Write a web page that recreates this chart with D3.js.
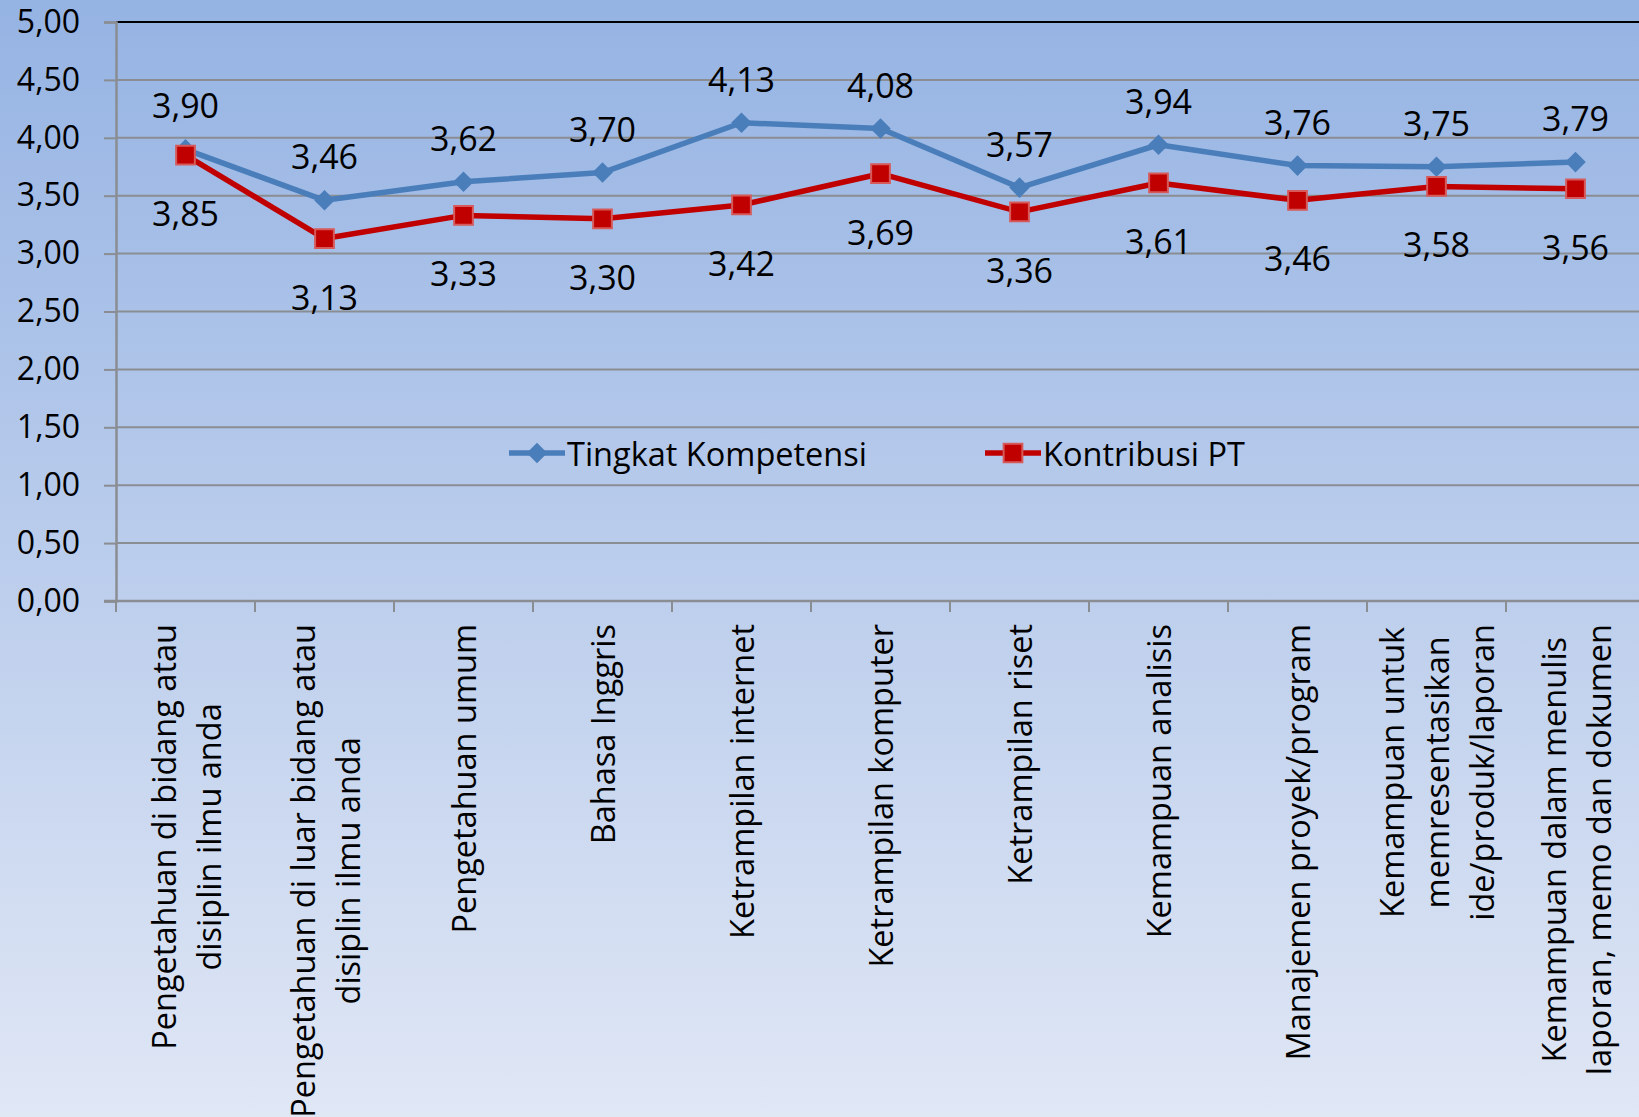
<!DOCTYPE html>
<html>
<head>
<meta charset="utf-8">
<script src="https://cdn.jsdelivr.net/npm/d3@7"></script>
<style>
  html, body { margin: 0; padding: 0; overflow: hidden; }
  body { font-family: "Open Sans", sans-serif; }
</style>
</head>
<body>
<div id="chart"></div>
<script>
// chart data
const categories = [
    ["Pengetahuan di bidang atau", "disiplin ilmu anda"],
    ["Pengetahuan di luar bidang atau", "disiplin ilmu anda"],
    ["Pengetahuan umum"],
    ["Bahasa Inggris"],
    ["Ketrampilan internet"],
    ["Ketrampilan komputer"],
    ["Ketrampilan riset"],
    ["Kemampuan analisis"],
    ["Manajemen proyek/program"],
    ["Kemampuan untuk", "memresentasikan", "ide/produk/laporan"],
    ["Kemampuan dalam menulis", "laporan, memo dan dokumen"]
];
const tingkatKompetensi = [3.90, 3.46, 3.62, 3.70, 4.13, 4.08, 3.57, 3.94, 3.76, 3.75, 3.79];
const kontribusiPT = [3.85, 3.13, 3.33, 3.30, 3.42, 3.69, 3.36, 3.61, 3.46, 3.58, 3.56];
const yTicks = [0, 0.5, 1, 1.5, 2, 2.5, 3, 3.5, 4, 4.5, 5];
const seriesNames = ["Tingkat Kompetensi", "Kontribusi PT"];

const W = 1639, H = 1117;
const LEFT = 116, RIGHT = 1645, TOP = 22, BOTTOM = 601;
const BLUE = '#4a7ebb', RED = '#c00000';
const FONT = '"Open Sans", sans-serif';
const fmt = v => v.toFixed(2).replace('.', ',');

const svg = d3.select('#chart')
    .append('svg')
    .attr('width', W)
    .attr('height', H);

// background gradient
const grad = svg.append('defs').append('linearGradient')
    .attr('id', 'bg')
    .attr('x1', 0).attr('y1', 0).attr('x2', 0).attr('y2', 1);
grad.append('stop').attr('offset', '0%').attr('stop-color', '#95b3e3');
grad.append('stop').attr('offset', '100%').attr('stop-color', '#e0e7f5');
svg.append('rect').attr('width', W).attr('height', H).attr('fill', 'url(#bg)');

const x = d3.scaleBand()
    .domain(d3.range(categories.length))
    .range([LEFT, RIGHT]);

const y = d3.scaleLinear()
    .domain([0, 5])
    .range([BOTTOM, TOP]);

const cx = i => x(i) + x.bandwidth() / 2;

// gridlines
svg.append('g')
    .selectAll('line')
    .data(yTicks.filter(d => d > 0))
    .enter()
    .append('line')
    .attr('x1', LEFT).attr('x2', W)
    .attr('y1', d => y(d)).attr('y2', d => y(d))
    .attr('stroke', d => d === 5 ? '#000' : '#8a8d92')
    .attr('stroke-width', 2);

// y axis
const yAxisGroup = svg.append('g')
    .attr('transform', `translate(${LEFT}, 0)`)
    .call(d3.axisLeft(y).tickValues(yTicks).tickFormat(fmt).tickSize(12).tickPadding(24));
yAxisGroup.select('.domain').attr('stroke', '#8a8d92').attr('stroke-width', 2.5);
yAxisGroup.selectAll('.tick line').attr('stroke', '#8a8d92').attr('stroke-width', 2);
yAxisGroup.selectAll('.tick text')
    .attr('font-family', FONT)
    .attr('font-size', 32)
    .attr('fill', '#000');

// x axis
const xAxisGroup = svg.append('g')
    .attr('transform', `translate(0, ${BOTTOM})`);
xAxisGroup.append('line')
    .attr('x1', LEFT - 12).attr('x2', W)
    .attr('stroke', '#8a8d92').attr('stroke-width', 2.5);
xAxisGroup.selectAll('line.tick')
    .data(d3.range(categories.length + 1))
    .enter()
    .append('line')
    .attr('class', 'tick')
    .attr('x1', d => LEFT + d * x.bandwidth())
    .attr('x2', d => LEFT + d * x.bandwidth())
    .attr('y1', 0).attr('y2', 11)
    .attr('stroke', '#8a8d92').attr('stroke-width', 2);

// category labels, rotated, lines centred on the longest one
const LABEL_TOP = 624, LINE_H = 45;
categories.forEach((lines, i) => {
    const g = svg.append('g');
    const texts = lines.map((t, j) => g.append('text')
        .attr('font-family', FONT)
        .attr('font-size', 32.5)
        .attr('text-anchor', 'middle')
        .attr('dominant-baseline', 'central')
        .attr('fill', '#000')
        .text(t));
    const maxLen = d3.max(texts, t => t.node().getComputedTextLength());
    const midY = LABEL_TOP + maxLen / 2;
    texts.forEach((t, j) => {
        const px = cx(i) + (j - (lines.length - 1) / 2) * LINE_H;
        t.attr('transform', `translate(${px}, ${midY}) rotate(-90)`);
    });
});

// lines
const line = d3.line()
    .x((d, i) => cx(i))
    .y(d => y(d));

svg.append('path')
    .datum(tingkatKompetensi)
    .attr('d', line)
    .attr('fill', 'none')
    .attr('stroke', BLUE)
    .attr('stroke-width', 5.5)
    .attr('stroke-linejoin', 'round');

svg.append('path')
    .datum(kontribusiPT)
    .attr('d', line)
    .attr('fill', 'none')
    .attr('stroke', RED)
    .attr('stroke-width', 5.5)
    .attr('stroke-linejoin', 'round');

// markers
const diamond = d3.symbol().type(d3.symbolDiamond2).size(270);
const square = d3.symbol().type(d3.symbolSquare).size(350);

svg.selectAll('path.blue-marker')
    .data(tingkatKompetensi)
    .enter()
    .append('path')
    .attr('class', 'blue-marker')
    .attr('d', diamond)
    .attr('transform', (d, i) => `translate(${cx(i)}, ${y(d)})`)
    .attr('fill', BLUE);

svg.selectAll('path.red-marker')
    .data(kontribusiPT)
    .enter()
    .append('path')
    .attr('class', 'red-marker')
    .attr('d', square)
    .attr('transform', (d, i) => `translate(${cx(i)}, ${y(d)})`)
    .attr('fill', RED)
    .attr('stroke', '#d65a5a')
    .attr('stroke-width', 2);

// data labels
svg.selectAll('text.blue-label')
    .data(tingkatKompetensi)
    .enter()
    .append('text')
    .attr('class', 'blue-label')
    .attr('x', (d, i) => cx(i))
    .attr('y', d => y(d) - 44)
    .attr('text-anchor', 'middle')
    .attr('dominant-baseline', 'central')
    .attr('font-family', FONT)
    .attr('font-size', 34)
    .text(fmt);

svg.selectAll('text.red-label')
    .data(kontribusiPT)
    .enter()
    .append('text')
    .attr('class', 'red-label')
    .attr('x', (d, i) => cx(i))
    .attr('y', d => y(d) + 58)
    .attr('text-anchor', 'middle')
    .attr('dominant-baseline', 'central')
    .attr('font-family', FONT)
    .attr('font-size', 34)
    .text(fmt);

// legend
const legend = svg.append('g').attr('transform', 'translate(0, 453)');
const legendItems = [
    { name: seriesNames[0], color: BLUE, marker: diamond, x: 509 },
    { name: seriesNames[1], color: RED, marker: square, x: 985 }
];
legendItems.forEach(item => {
    legend.append('line')
        .attr('x1', item.x).attr('x2', item.x + 56)
        .attr('stroke', item.color).attr('stroke-width', 5.5);
    legend.append('path')
        .attr('d', item.marker)
        .attr('transform', `translate(${item.x + 28}, 0)`)
        .attr('fill', item.color)
        .attr('stroke', item.color === RED ? '#d65a5a' : 'none')
        .attr('stroke-width', 2);
    legend.append('text')
        .attr('x', item.x + 58)
        .attr('dominant-baseline', 'central')
        .attr('font-family', FONT)
        .attr('font-size', 32.5)
        .text(item.name);
});
</script>
</body>
</html>
